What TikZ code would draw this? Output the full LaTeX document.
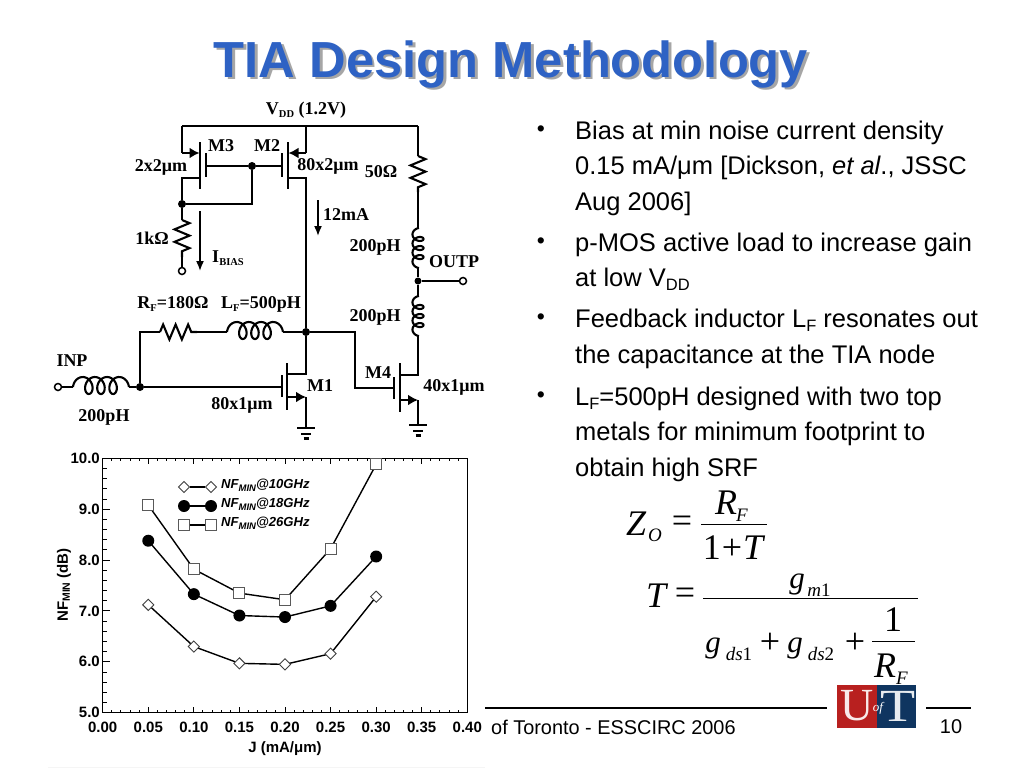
\documentclass[tikz,border=0pt]{standalone}
\usepackage{fontspec}
\setmainfont{Liberation Serif}
\setsansfont{Liberation Sans}
\usetikzlibrary{arrows.meta,decorations.pathmorphing,shapes.geometric}
\definecolor{titleblue}{RGB}{46,98,196}
\definecolor{uftred}{RGB}{184,32,31}
\definecolor{uftnavy}{RGB}{15,53,96}
\newcommand{\lowsub}[1]{\raisebox{-3.5pt}{\fontsize{10.5}{11}\selectfont #1}}
\newcommand{\txtsub}[1]{\raisebox{-4pt}{\fontsize{16.5}{17}\selectfont #1}}
% coil from a named point: #1 point, #2 rotation, #3 side, #4 c, #5 b, #6 a, #7 d
\newcommand{\coilpath}[7]{%
    \draw[wire,shift={(#1)},rotate=#2,yscale=#3] plot[samples=110,smooth,domain=-1.75:20.6]
        ({#4*(\x+1.75)+#5*(sin(\x r)+0.984)},{#7-#6*cos(\x r)});
}
\tikzset{
    wire/.style={line width=2.1pt},
    mosarrow/.style={wire,-{Latex[length=10pt,width=11pt]}},
    currentarrow/.style={line width=1.6pt,-{Latex[length=10pt,width=8pt]}},
    res/.style={wire,decorate,decoration={zigzag,amplitude=7.5pt,segment length=12.5pt}},
    dot/.style={circle,fill=black,inner sep=0pt,minimum size=8pt},
    pin/.style={circle,draw=black,line width=1.5pt,fill=white,inner sep=0pt,minimum size=7pt},
    lbl/.style={font=\bfseries\fontsize{18}{19}\selectfont,inner sep=0pt},
    axlbl/.style={font=\sffamily\bfseries\fontsize{15}{16}\selectfont,inner sep=0pt},
    legtxt/.style={font=\sffamily\bfseries\itshape\fontsize{13.1}{14}\selectfont,inner sep=0pt,anchor=west},
    bodytxt/.style={font=\sffamily\fontsize{25.5}{35.5}\selectfont,inner sep=0pt,anchor=north west,align=left},
    foot/.style={font=\sffamily\fontsize{19.9}{21}\selectfont,inner sep=0pt},
    eq/.style={font=\fontsize{36}{38}\selectfont,inner sep=0pt},
    eqi/.style={font=\itshape\fontsize{36}{38}\selectfont,inner sep=0pt},
    eqg/.style={font=\itshape\fontsize{31}{33}\selectfont,inner sep=0pt},
    eqs/.style={font=\itshape\fontsize{19}{20}\selectfont,inner sep=0pt},
    diam/.style={draw=black!75,fill=white,line width=0.9pt,shape=diamond,minimum size=11.5pt,inner sep=0pt},
    sq/.style={draw=black!65,fill=white,line width=0.9pt,rectangle,minimum size=11pt,inner sep=0pt},
    disc/.style={circle,fill=black,minimum size=12pt,inner sep=0pt},
}
\begin{document}
\begin{tikzpicture}[x=1pt,y=-1pt]
    \useasboundingbox (0,0) rectangle (1024,768);
    \fill[white] (0,0) rectangle (1024,768);

    % title
    \node (titleshadow) [font=\sffamily\bfseries\fontsize{50.7}{53}\selectfont,text=black!35,inner sep=0pt] at (513.5,67) {TIA Design Methodology};
    \node (title) [font=\sffamily\bfseries\fontsize{50.7}{53}\selectfont,text=titleblue,inner sep=0pt] at (511,65) {TIA Design Methodology};

    % rail and corners
    \coordinate (railL) at (182,126);
    \coordinate (railM) at (306,126);
    \coordinate (railR) at (418,126);
    \draw[wire] (railL) -- (railM) -- (railR);

    % M3
    \coordinate (m3s) at (182,153);
    \coordinate (m3sc) at (199.5,153);
    \coordinate (m3dc) at (200,178);
    \coordinate (m3d) at (182,178);
    \coordinate (m3g) at (206,166);
    \node (bias) [dot] at (182,204) {};
    \node (gate) [dot] at (252,166) {};
    \coordinate (gatedn) at (252,204);
    \draw[wire] (200,142) -- (200,189);
    \draw[wire] (206,153) -- (206,177);
    \draw[wire] (railL) -- (m3s);
    \draw[mosarrow] (m3s) -- (m3sc);
    \draw[wire] (m3dc) -- (m3d) -- (bias);
    \draw[wire] (m3g) -- (gate);
    \draw[wire] (gate) -- (gatedn) -- (bias);

    % 1k and bias current
    \coordinate (r1a) at (182,220);
    \coordinate (r1b) at (182,257);
    \node (ibpin) [pin] at (182,271) {};
    \draw[wire] (bias) -- (r1a);
    \draw[res] (r1a) -- (r1b);
    \draw[wire] (r1b) -- (ibpin);
    \coordinate (iba) at (200,211);
    \coordinate (ibb) at (200,271);
    \draw[currentarrow] (iba) -- (ibb);

    % M2
    \coordinate (m2s) at (306,153);
    \coordinate (m2sc) at (288.5,153);
    \coordinate (m2dc) at (288,178);
    \coordinate (m2d) at (306,178);
    \coordinate (m2g) at (282,166);
    \node (tia) [dot] at (306,332) {};
    \draw[wire] (288,142) -- (288,189);
    \draw[wire] (282,153) -- (282,177);
    \draw[wire] (gate) -- (m2g);
    \draw[wire] (railM) -- (m2s);
    \draw[mosarrow] (m2s) -- (m2sc);
    \draw[wire] (m2dc) -- (m2d) -- (tia);
    \coordinate (ima) at (318,200);
    \coordinate (imb) at (318,236);
    \draw[currentarrow] (ima) -- (imb);

    % output branch
    \coordinate (r50a) at (418,156);
    \coordinate (r50b) at (418,192);
    \coordinate (l1a) at (418,228);
    \coordinate (l1b) at (418,268);
    \node (outp) [dot,minimum size=7pt] at (418,281) {};
    \node (outpin) [pin] at (463,281) {};
    \coordinate (l2a) at (418,296);
    \coordinate (l2b) at (418,336);
    \draw[wire] (railR) -- (r50a);
    \draw[res] (r50a) -- (r50b);
    \draw[wire] (r50b) -- (l1a);
    \coilpath{l1a}{-90}{-1}{1.44}{4}{5.5}{0}
    \draw[wire] (l1b) -- (outp);
    \draw[wire] (outp) -- (outpin);
    \draw[wire] (outp) -- (l2a);
    \coilpath{l2a}{-90}{-1}{1.44}{4}{5.5}{0}

    % M4
    \coordinate (m4dc) at (400,375);
    \coordinate (m4d) at (418,375);
    \coordinate (m4sc) at (400,400);
    \coordinate (m4s) at (418,400);
    \coordinate (m4g) at (394,388);
    \coordinate (m4ga) at (355,388);
    \coordinate (m4gb) at (355,332);
    \coordinate (gnd4) at (418,425);
    \draw[wire] (400,363) -- (400,412);
    \draw[wire] (394,377) -- (394,399);
    \draw[wire] (l2b) -- (m4d) -- (m4dc);
    \draw[mosarrow] (m4sc) -- (m4s);
    \draw[wire] (m4s) -- (gnd4);
    \draw[wire] (m4g) -- (m4ga) -- (m4gb) -- (tia);
    \draw[wire] (409,425) -- (427,425);
    \draw[wire] (413,431) -- (423,431);
    \draw[wire] (415.5,435.5) -- (420.5,435.5);

    % M1
    \coordinate (m1dc) at (287,374);
    \coordinate (m1d) at (306,374);
    \coordinate (m1sc) at (287,397);
    \coordinate (m1s) at (306,397);
    \coordinate (m1g) at (282,387);
    \coordinate (gnd1) at (306,428);
    \node (inj) [dot] at (140,387) {};
    \draw[wire] (287,363) -- (287,410);
    \draw[wire] (282,375) -- (282,397);
    \draw[wire] (tia) -- (m1d) -- (m1dc);
    \draw[mosarrow] (m1sc) -- (m1s);
    \draw[wire] (m1s) -- (gnd1);
    \draw[wire] (inj) -- (m1g);
    \draw[wire] (297,428) -- (315,428);
    \draw[wire] (301,434) -- (311,434);
    \draw[wire] (303.5,438.5) -- (308.5,438.5);

    % feedback and input
    \coordinate (fbc) at (140,332);
    \coordinate (rfa) at (160,332);
    \coordinate (rfb) at (197,332);
    \coordinate (lfa) at (227,332);
    \coordinate (lfb) at (283,332);
    \node (inpin) [pin] at (58,387) {};
    \coordinate (lia) at (73,387);
    \coordinate (lib) at (129,387);
    \draw[wire] (inj) -- (fbc) -- (rfa);
    \draw[res] (rfa) -- (rfb);
    \draw[wire] (rfb) -- (lfa);
    \coilpath{lfa}{0}{1}{1.93}{6.5}{8.5}{-1.5}
    \draw[wire] (lfb) -- (tia);
    \draw[wire] (inpin) -- (lia);
    \coilpath{lia}{0}{1}{1.93}{6.5}{8.5}{-1.5}
    \draw[wire] (lib) -- (inj);

    % circuit labels
    \node (vddl) [lbl] at (306,110) {V\lowsub{DD} (1.2V)};
    \node (m3l) [lbl] at (221,146) {M3};
    \node (m2l) [lbl] at (267,146) {M2};
    \node (w3l) [lbl] at (161,167) {2x2μm};
    \node (w2l) [lbl] at (328,166) {80x2μm};
    \node (r50l) [lbl] at (381,172) {50Ω};
    \node (i12l) [lbl] at (346,215) {12mA};
    \node (r1l) [lbl] at (152,238) {1kΩ};
    \node (ibl) [lbl] at (228,258) {I\lowsub{BIAS}};
    \node (l1l) [lbl] at (375,247) {200pH};
    \node (outl) [lbl] at (454,262) {OUTP};
    \node (rfl) [lbl] at (173,304) {R\lowsub{F}=180Ω};
    \node (lfl) [lbl] at (261,304) {L\lowsub{F}=500pH};
    \node (l2l) [lbl] at (375,317) {200pH};
    \node (inl) [lbl] at (72,361) {INP};
    \node (lil) [lbl] at (104,417) {200pH};
    \node (w1l) [lbl] at (242,405) {80x1μm};
    \node (m1l) [lbl] at (320,386) {M1};
    \node (m4l) [lbl] at (378,373) {M4};
    \node (w4l) [lbl] at (454,387) {40x1μm};

    % plot frame and ticks
    \fill[black!4] (48,766.5) rectangle (485,768);
    \draw[line width=1.2pt] (102.7,458.3) rectangle (467.3,712.7);
    \foreach \k in {0,...,40} {
        \pgfmathsetmacro{\xp}{102.7+\k*9.115}
        \pgfmathsetmacro{\tl}{ifthenelse(mod(\k,5)==0,6,3)}
        \draw[line width=1pt] (\xp,712.7) -- ++(0,-\tl);
        \draw[line width=1pt] (\xp,458.3) -- ++(0,\tl);
    }
    \foreach \k in {0,...,25} {
        \pgfmathsetmacro{\yp}{712.7-\k*10.176}
        \pgfmathsetmacro{\tl}{ifthenelse(mod(\k,5)==0,7,4)}
        \draw[line width=1pt] (102.7,\yp) -- ++(\tl,0);
    }
    \foreach \v/\lab in {0/0.00,1/0.05,2/0.10,3/0.15,4/0.20,5/0.25,6/0.30,7/0.35,8/0.40}
        \node (xt\v) [axlbl] at (102.7+\v*45.575,727.5) {\lab};
    \foreach \v/\lab in {0/5.0,1/6.0,2/7.0,3/8.0,4/9.0,5/10.0}
        \node (yt\v) [axlbl,anchor=east] at (100,712.7-\v*50.88) {\lab};
    \node (ylab) [axlbl,rotate=90] at (64,585) {NF\raisebox{-2pt}{\fontsize{10.5}{11}\selectfont MIN} (dB)};
    \node (xlab) [axlbl] at (285,749) {J (mA/μm)};

    % data
    \foreach \cname/\stylename/\vals in {a/sq/{9.08,7.82,7.35,7.22,8.22,9.88},b/disc/{8.38,7.33,6.91,6.88,7.10,8.07},c/diam/{7.12,6.30,5.97,5.95,6.16,7.28}} {
        \foreach \v [count=\i] in \vals {
            \coordinate (\cname\i) at (102.7+\i*45.575,712.7-\v*50.88+254.4);
        }
        \draw[line width=1.4pt] (\cname1) -- (\cname2) -- (\cname3) -- (\cname4) -- (\cname5) -- (\cname6);
        \foreach \i in {1,...,6}
            \node (m\cname\i) [\stylename] at (\cname\i) {};
    }

    % legend
    \foreach \n/\yy/\stylename/\lab in {1/487/diam/10,2/506/disc/18,3/525/sq/26} {
        \node (lega\n) [\stylename] at (184,\yy) {};
        \node (legb\n) [\stylename] at (211,\yy) {};
        \draw[line width=1.2pt] (lega\n) -- (legb\n);
        \node (legt\n) [legtxt] at (221,\yy-2) {NF\raisebox{-3pt}{\fontsize{9.5}{10}\selectfont MIN}@\lab GHz};
    }

    % bullets
    \foreach \yy in {131,243,319,397}
        \node[font=\sffamily\fontsize{23}{24}\selectfont,inner sep=0pt] at (541,\yy) {•};
    \node (b1) [bodytxt] at (575,120.5) {Bias at min noise current density\\0.15 mA/μm [Dickson, \textit{et al}., JSSC\\Aug 2006]};
    \node (b2) [bodytxt] at (575,232.5) {p-MOS active load to increase gain\\at low V\txtsub{DD}};
    \node (b3) [bodytxt] at (575,309) {Feedback inductor L\txtsub{F} resonates out\\the capacitance at the TIA node};
    \node (b4) [bodytxt] at (575,386.5) {L\txtsub{F}=500pH designed with two top\\metals for minimum footprint to\\obtain high SRF};

    % equations
    \node (zz) [eqi] at (636,524) {Z};
    \node (zo) [eqs] at (655,535) {O};
    \node (zeq) [eq] at (682,524) {=};
    \node (zr) [eqi] at (726,503) {R};
    \node (zf) [eqs] at (742,515) {F};
    \node (zd) [eq] at (734,548) {1\kern1pt+\kern1pt\textit{T}};
    \coordinate (zbl) at (701,524);
    \coordinate (zbr) at (767,524);
    \draw[line width=1pt] (zbl) -- (zbr);
    \node (tt) [eqi] at (656,596) {T};
    \node (teq) [eq] at (685,596) {=};
    \coordinate (tbl) at (703,598);
    \coordinate (tbr) at (918,598);
    \draw[line width=1pt] (tbl) -- (tbr);
    \node (gm) [eqg] at (797,584) {g};
    \node (gms) [eqs] at (819,590) {m\textup{1}};
    \node (gd1) [eqg] at (713,648) {g};
    \node (gd1s) [eqs] at (739,654) {ds\textup{1}};
    \node (pl1) [eq] at (770,643) {+};
    \node (gd2) [eqg] at (795,648) {g};
    \node (gd2s) [eqs] at (821,654) {ds\textup{2}};
    \node (pl2) [eq] at (855,643) {+};
    \coordinate (sbl) at (872,641);
    \coordinate (sbr) at (915,641);
    \draw[line width=0.8pt] (sbl) -- (sbr);
    \node (one) [eq] at (893,620) {1};
    \node (rr) [eqi] at (885,666) {R};
    \node (rrf) [eqs] at (902,678) {F};

    % footer
    \coordinate (fa) at (485,708);
    \coordinate (fb) at (827,708);
    \coordinate (fc) at (926,708);
    \coordinate (fd) at (971,708);
    \draw[line width=2.6pt] (fa) -- (fb);
    \draw[line width=2.6pt] (fc) -- (fd);
    \node (foottxt) [foot,anchor=west] at (491,727) {of Toronto - ESSCIRC 2006};
    \node (pagenum) [foot] at (951,727) {10};
    \fill[uftred] (837,685) rectangle (877,728);
    \fill[uftnavy] (877,685) rectangle (916,728);
    \node (logou) [text=white!90!uftred,font=\fontsize{46}{46}\selectfont,inner sep=0pt] at (857,706) {U};
    \node (logot) [text=white!90!uftnavy,font=\fontsize{46}{46}\selectfont,inner sep=0pt,xscale=1.25] at (898,706) {T};
    \node (logof) [text=white,font=\itshape\fontsize{13}{14}\selectfont,inner sep=0pt] at (878,708) {of};
\end{tikzpicture}
\end{document}
